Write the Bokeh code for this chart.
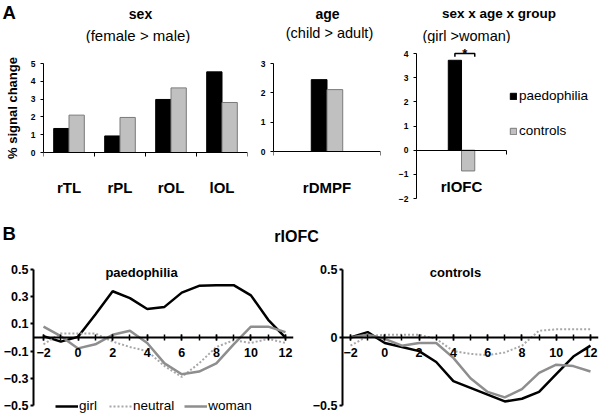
import math
from bokeh.plotting import figure
from bokeh.layouts import column, row
from bokeh.models import (FixedTicker, LinearAxis, Range1d, Label, Legend, LegendItem)
from bokeh.core.properties import value
from bokeh.embed import file_html
from bokeh.resources import INLINE

FONT = "Liberation Sans"

# ---------------- data ----------------
group_names = ["paedophilia", "controls"]

sex_regions = ["rTL", "rPL", "rOL", "lOL"]
sex_paedo = [1.35, 0.93, 2.98, 4.53]
sex_ctrl = [2.10, 1.97, 3.63, 2.81]
sex_yticks = [0, 1, 2, 3, 4, 5]

age_regions = ["rDMPF"]
age_paedo = [2.45]
age_ctrl = [2.11]
age_yticks = [0, 1, 2, 3]

int_regions = ["rIOFC"]
int_paedo = [3.72]
int_ctrl = [-0.86]
int_yticks = [-2, -1, 0, 1, 2, 3, 4]

time = list(range(-2, 13))
time_labels = [-2, 0, 2, 4, 6, 8, 10, 12]
cond_names = ["girl", "neutral", "woman"]

pae_girl = [0.01, -0.03, 0.005, 0.17, 0.34, 0.29, 0.21, 0.225, 0.33, 0.38, 0.385, 0.385, 0.31, 0.13, 0.0]
pae_neutral = [-0.05, 0.03, 0.03, 0.03, -0.03, -0.07, -0.10, -0.21, -0.29, -0.19, -0.07, -0.02, -0.04, -0.01, -0.04]
pae_woman = [0.08, 0.01, -0.08, -0.05, 0.02, 0.05, -0.04, -0.19, -0.27, -0.25, -0.19, -0.05, 0.08, 0.08, 0.04]
pae_yticks = [0.5, 0.3, 0.1, -0.1, -0.3, -0.5]

ctl_girl = [0.0, 0.04, -0.04, -0.07, -0.10, -0.18, -0.32, -0.37, -0.42, -0.47, -0.45, -0.40, -0.27, -0.14, -0.06]
ctl_neutral = [-0.06, 0.01, 0.02, 0.02, 0.02, -0.01, -0.10, -0.12, -0.13, -0.11, -0.06, 0.05, 0.06, 0.06, 0.06]
ctl_woman = [0.0, 0.02, -0.01, -0.06, -0.04, -0.04, -0.15, -0.30, -0.40, -0.44, -0.38, -0.26, -0.20, -0.21, -0.25]
ctl_yticks = [0.5, 0, -0.5]

# ---------------- styles ----------------
BLACK = "#000000"
GRAY_FILL = "#c0c0c0"
GRAY_EDGE = "#7a7a7a"
WOMAN = "#8e8e8e"
NEUTRAL = "#a8a8a8"


def base_fig(w, h, xr, yr, bl, br, bt, bb):
    p = figure(width=w, height=h, x_range=xr, y_range=yr, title=None,
               toolbar_location=None, output_backend="svg",
               x_axis_location=None, y_axis_location=None,
               min_border_left=bl, min_border_right=br,
               min_border_top=bt, min_border_bottom=bb)
    p.grid.visible = False
    p.outline_line_color = None
    p.background_fill_color = "white"
    p.border_fill_color = "white"
    return p


def label(p, x, y, text, size, bold=False, align="center", angle=0.0):
    p.add_layout(Label(x=x, y=y, text=text, text_font=FONT, text_font_size=size,
                       text_font_style="bold" if bold else "normal",
                       text_align=align, text_baseline="middle", text_color=BLACK,
                       angle=angle))


def bar_axes(p, regions, yticks, standoff, xbounds, ybounds):
    n = len(regions)
    centers = [i + 0.5 for i in range(n)]
    xa = LinearAxis(fixed_location=0, bounds=xbounds,
                    ticker=FixedTicker(ticks=centers, minor_ticks=list(range(n + 1))),
                    major_label_overrides={c: r for c, r in zip(centers, regions)},
                    major_tick_in=0, major_tick_out=0, minor_tick_in=0, minor_tick_out=4,
                    major_label_standoff=standoff,
                    major_label_text_font=FONT, major_label_text_font_size="15px",
                    major_label_text_font_style="bold", major_label_text_color=BLACK,
                    axis_line_color=BLACK, axis_line_width=1)
    p.add_layout(xa, "below")
    ya = LinearAxis(ticker=FixedTicker(ticks=yticks, minor_ticks=[]), bounds=ybounds,
                    major_tick_in=0, major_tick_out=3, minor_tick_out=0,
                    major_label_standoff=5,
                    major_label_text_font=FONT, major_label_text_font_size="8.5px",
                    major_label_text_font_style="bold", major_label_text_color=BLACK,
                    axis_line_color=BLACK, axis_line_width=1)
    p.add_layout(ya, "left")
    return centers


def add_bars(p, centers, paedo, ctrl, bw):
    r1 = p.vbar(x=[c - bw / 2 for c in centers], top=paedo, bottom=0, width=bw,
                fill_color=BLACK, line_color=BLACK, line_width=1)
    r2 = p.vbar(x=[c + bw / 2 for c in centers], top=ctrl, bottom=0, width=bw,
                fill_color=GRAY_FILL, line_color=GRAY_EDGE, line_width=1)
    return r1, r2


TOP_H = 162

# ---------------- header A (panel letter and panel titles) ----------------
hdrA = base_fig(600, 43, Range1d(0, 600), Range1d(43, 0), 0, 0, 0, 0)
label(hdrA, 2, 12, "A", "18.5px", bold=True, align="left")
label(hdrA, 140, 13, "sex", "14px", bold=True)
label(hdrA, 137.5, 35, "(female > male)", "15px")
label(hdrA, 327, 13, "age", "14px", bold=True)
label(hdrA, 329, 32, "(child > adult)", "14.5px")
label(hdrA, 498.5, 13, "sex x age x group", "13.5px", bold=True)
label(hdrA, 466, 35, "(girl >woman)", "14.5px")

# ---------------- y-axis title strip ----------------
strip = base_fig(22, TOP_H, Range1d(0, 22), Range1d(198, 43), 0, 0, 0, 7)
label(strip, 12, 107.5, "% signal change", "13px", bold=True, angle=math.pi / 2)

# ---------------- panel A: sex ----------------
f1 = base_fig(235, TOP_H, Range1d(0, len(sex_regions)), Range1d(-2.584, 6.124), 21, 10, 0, 7)
c1 = bar_axes(f1, sex_regions, sex_yticks, 22, (0, len(sex_regions)), (0, 5))
add_bars(f1, c1, sex_paedo, sex_ctrl, 0.3)

# ---------------- panel A: age ----------------
f2 = base_fig(138, TOP_H, Range1d(0, len(age_regions)), Range1d(-1.602, 3.682), 14, 15, 0, 7)
c2 = bar_axes(f2, age_regions, age_yticks, 23, (0, len(age_regions)), (0, 3))
add_bars(f2, c2, age_paedo, age_ctrl, 0.147)

# ---------------- panel A: interaction ----------------
f3 = base_fig(205, TOP_H, Range1d(0, 188 / 92), Range1d(-2, 4.414), 17, 0, 0, 7)
c3 = bar_axes(f3, int_regions, int_yticks, 24, (0, len(int_regions)), (-2, 4))
bw3 = 0.147
r_p, r_c = add_bars(f3, c3, int_paedo, int_ctrl, bw3)
# significance bracket between the two group bars
top_level = max(int_paedo) + 0.28
xl = c3[0] - bw3 / 2
xr = c3[0] + bw3
f3.line(x=[xl, xl, xr, xr], y=[top_level - 0.13, top_level, top_level, top_level - 0.13],
        line_color=BLACK, line_width=1.5)
f3.text(x=[(xl + xr) / 2], y=[top_level], text=["*"], text_font=value(FONT),
        text_font_size="13px", text_font_style="bold", text_align="center",
        text_baseline="alphabetic", text_color=BLACK)
leg3 = Legend(items=[LegendItem(label=group_names[0], renderers=[r_p]),
                     LegendItem(label=group_names[1], renderers=[r_c])],
              location=(93, 60), orientation="vertical",
              glyph_width=8, glyph_height=8, label_standoff=2, spacing=20,
              label_height=15, padding=0, margin=0,
              border_line_color=None, background_fill_alpha=0,
              label_text_font=FONT, label_text_font_size="13.5px", label_text_color=BLACK)
f3.add_layout(leg3)

# ---------------- header B ----------------
hdrB = base_fig(600, 57, Range1d(0, 600), Range1d(57, 0), 0, 0, 0, 0)
label(hdrB, 2, 28.3, "B", "18.5px", bold=True, align="left")
label(hdrB, 296, 31, "rIOFC", "16px", bold=True)


# ---------------- panel B ----------------
def line_panel(w, bl, br, xr, yticks, girl, neutral, woman, name, name_x, legend):
    p = base_fig(w, 152, xr, Range1d(-0.566, 0.5515), bl, br, 0, 0)
    xa = LinearAxis(fixed_location=0,
                    ticker=FixedTicker(ticks=time_labels, minor_ticks=time),
                    major_tick_in=3, major_tick_out=3, minor_tick_in=3, minor_tick_out=3,
                    major_label_standoff=7,
                    major_label_text_font=FONT, major_label_text_font_size="12.5px",
                    major_label_text_font_style="bold", major_label_text_color=BLACK,
                    axis_line_color=BLACK, axis_line_width=2,
                    major_tick_line_width=1.5, minor_tick_line_width=1.5)
    p.add_layout(xa, "below")
    ya = LinearAxis(ticker=FixedTicker(ticks=yticks, minor_ticks=[]), bounds=(-0.5, 0.5),
                    major_tick_in=0, major_tick_out=3, major_label_standoff=2,
                    major_label_overrides={0: "0"},
                    major_label_text_font=FONT, major_label_text_font_size="12.5px",
                    major_label_text_font_style="bold", major_label_text_color=BLACK,
                    axis_line_color=BLACK, axis_line_width=2, major_tick_line_width=2)
    p.add_layout(ya, "left")
    rg = p.line(time, girl, line_color=BLACK, line_width=2.5)
    rn = p.line(time, neutral, line_color=NEUTRAL, line_width=2, line_dash="2 2")
    rw = p.line(time, woman, line_color=WOMAN, line_width=2.5)
    label(p, name_x, 0.478, name, "13px", bold=True)
    if legend:
        lg = Legend(items=[LegendItem(label=cond_names[0], renderers=[rg]),
                           LegendItem(label=cond_names[1], renderers=[rn]),
                           LegendItem(label=cond_names[2], renderers=[rw])],
                    location=(22, 1), orientation="horizontal",
                    glyph_width=23, glyph_height=12, label_standoff=1, spacing=10,
                    label_height=15, padding=0, margin=0,
                    border_line_color=None, background_fill_alpha=0,
                    label_text_font=FONT, label_text_font_size="13.5px",
                    label_text_color=BLACK)
        p.add_layout(lg)
    return p


g1 = line_panel(305, 33, 12, Range1d(-2.579, 12.463), pae_yticks,
                pae_girl, pae_neutral, pae_woman, group_names[0], 3.67, True)
g2 = line_panel(295, 37, 2, Range1d(-2.467, 12.467), ctl_yticks,
                ctl_girl, ctl_neutral, ctl_woman, group_names[1], 4.125, False)

layout = column(hdrA, row(strip, f1, f2, f3, spacing=0), hdrB, row(g1, g2, spacing=0),
                spacing=0)

open("out.html", "w").write(file_html(layout, INLINE))
